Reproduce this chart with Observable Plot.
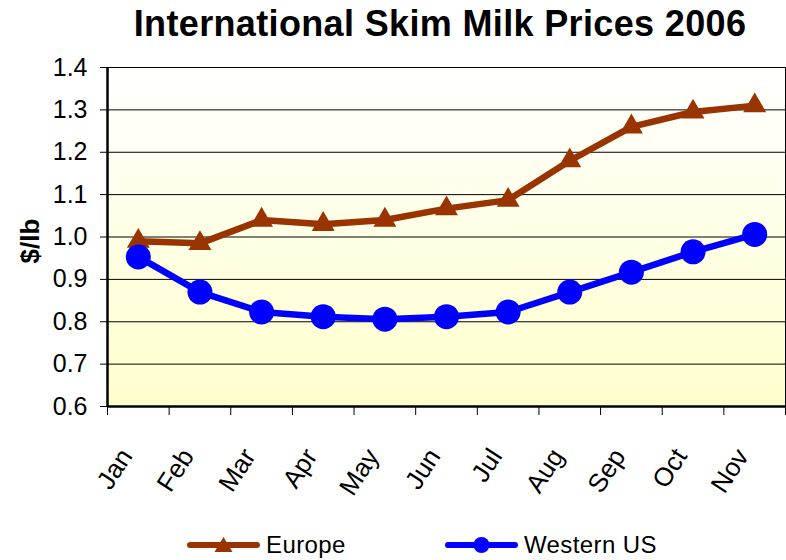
<!DOCTYPE html>
<html>
<head>
<meta charset="utf-8">
<script src="https://cdn.jsdelivr.net/npm/d3@7"></script>
<script src="https://cdn.jsdelivr.net/npm/@observablehq/plot@0.6"></script>
<style>
  body { margin: 0; background: #fff; font-family: "Liberation Sans", Arial, sans-serif; }
  #wrap { position: relative; width: 786px; height: 560px; overflow: hidden; }
  #title { position: absolute; top: 6px; left: 440px; transform: translateX(-50%); white-space: nowrap;
           font-size: 36px; font-weight: bold; line-height: 36px; letter-spacing: 0.35px; color: #000; }
  #chart { position: absolute; top: 55px; left: 0; }
  #ylabel { position: absolute; left: 30px; top: 241px; transform: translate(-50%, -50%) rotate(-90deg);
            font-size: 26px; font-weight: bold; white-space: nowrap; line-height: 30px; }
  .item { position: absolute; top: 530px; height: 30px; display: flex; align-items: center; font-size: 24px; letter-spacing: 0.4px; line-height: 30px; white-space: nowrap; }
  .item svg { margin-right: 6px; }
</style>
</head>
<body>
<div id="wrap">
  <div id="title">International Skim Milk Prices 2006</div>
  <div id="chart"></div>
  <div id="ylabel">$/lb</div>
  <div id="legend"></div>
</div>
<script>
const months = ["Jan", "Feb", "Mar", "Apr", "May", "Jun", "Jul", "Aug", "Sep", "Oct", "Nov"];
const europe = [0.99, 0.985, 1.04, 1.03, 1.04, 1.067, 1.087, 1.18, 1.26, 1.295, 1.31];
const westernUS = [0.953, 0.87, 0.823, 0.812, 0.806, 0.812, 0.823, 0.87, 0.917, 0.965, 1.006];
const yTicks = [0.6, 0.7, 0.8, 0.9, 1.0, 1.1, 1.2, 1.3, 1.4];
const seriesNames = ["Europe", "Western US"];
const seriesColors = ["#993300", "#0000ff"];

const rows = [];
months.forEach((m, i) => {
  rows.push({month: m, pos: i + 0.5, series: seriesNames[0], value: europe[i]});
});
months.forEach((m, i) => {
  rows.push({month: m, pos: i + 0.5, series: seriesNames[1], value: westernUS[i]});
});
const euRows = rows.filter(d => d.series === seriesNames[0]);
const usRows = rows.filter(d => d.series === seriesNames[1]);

const chart = Plot.plot({
  width: 786,
  height: 470,
  marginTop: 12,
  marginBottom: 119,
  marginLeft: 107,
  marginRight: 1,
  style: {fontFamily: "'Liberation Sans', Arial, sans-serif", background: "transparent", color: "#000", overflow: "visible"},
  x: {type: "linear", domain: [0, months.length], axis: null},
  y: {domain: [yTicks[0], yTicks[yTicks.length - 1]], axis: null},
  color: {domain: seriesNames, range: seriesColors},
  marks: [
    Plot.frame({fill: "url(#bgGrad)"}),
    Plot.ruleY(yTicks.slice(1, -1), {stroke: "#000", strokeWidth: 1}),
    Plot.axisY(yTicks, {tickSize: 7, tickPadding: 13, fontSize: 25, tickFormat: d3.format(".1f"), label: null, stroke: "#000"}),
    Plot.axisX(d3.range(months.length + 1), {tickSize: 9, tickFormat: () => "", label: null, stroke: "#000"}),
    Plot.axisX(months.map((m, i) => i + 0.5), {tickSize: 0, tickPadding: 45, tickRotate: -57, fontSize: 26, dx: -12,
      tickFormat: d => months[Math.floor(d)], label: null}),
    Plot.line(euRows, {x: "pos", y: "value", stroke: "series", strokeWidth: 6.5, strokeLinejoin: "round"}),
    Plot.dot(euRows, {x: "pos", y: "value", symbol: "triangle", r: 8.5, fill: "series", stroke: "none"}),
    Plot.line(usRows, {x: "pos", y: "value", stroke: "series", strokeWidth: 6.5, strokeLinejoin: "round"}),
    Plot.dot(usRows, {x: "pos", y: "value", r: 12.5, fill: "series", stroke: "none"}),
    Plot.frame({stroke: "#000", strokeWidth: 1}),
    Plot.ruleX([0], {stroke: "#000", strokeWidth: 2.5}),
    Plot.ruleY([yTicks[0]], {stroke: "#000", strokeWidth: 2.5})
  ]
});

const ns = "http://www.w3.org/2000/svg";
const defs = document.createElementNS(ns, "defs");
defs.innerHTML = '<linearGradient id="bgGrad" x1="0" y1="0" x2="0" y2="1">' +
  '<stop offset="0" stop-color="#ffffff"/><stop offset="1" stop-color="#ffffcc"/></linearGradient>';
chart.insertBefore(defs, chart.firstChild);
document.getElementById("chart").appendChild(chart);

// Legend
const legend = document.getElementById("legend");
const legendLeft = [187, 445];
seriesNames.forEach((name, k) => {
  const item = document.createElement("div");
  item.className = "item";
  item.style.left = legendLeft[k] + "px";
  const marker = k === 0
    ? '<path d="M36.5,4 L45.5,19 L27.5,19 Z" fill="' + seriesColors[k] + '"/>'
    : '<circle cx="36.5" cy="12" r="8" fill="' + seriesColors[k] + '"/>';
  item.innerHTML = '<svg width="73" height="24" viewBox="0 0 73 24">' +
    '<line x1="3" y1="12" x2="70" y2="12" stroke="' + seriesColors[k] + '" stroke-width="6" stroke-linecap="round"/>' +
    marker + '</svg><span>' + name + '</span>';
  legend.appendChild(item);
});
</script>
</body>
</html>
